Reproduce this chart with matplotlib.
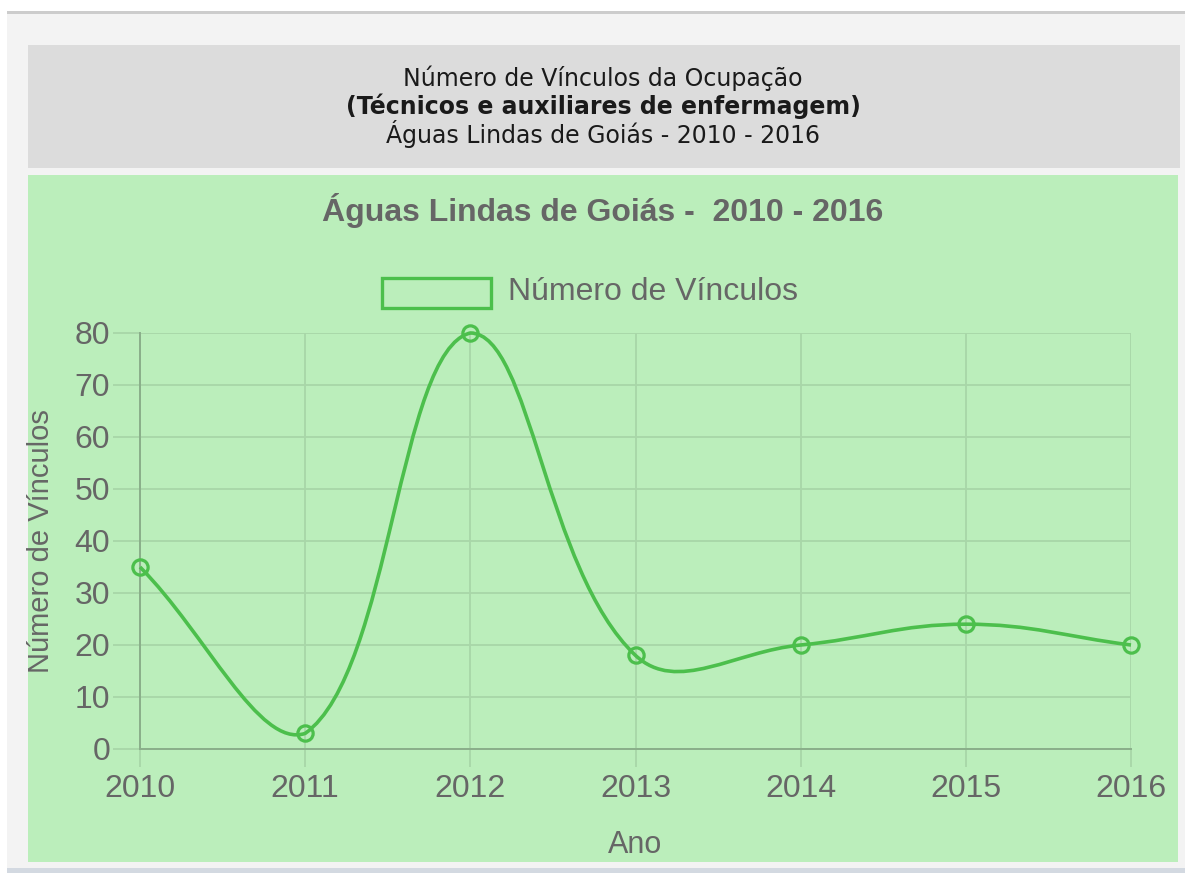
import numpy as np
import matplotlib.pyplot as plt
from matplotlib.patches import Rectangle, PathPatch
from matplotlib.path import Path

plt.rcParams['font.family'] = ['Liberation Sans', 'DejaVu Sans']

# dados
anos = [2010, 2011, 2012, 2013, 2014, 2015, 2016]
vinculos = [35, 3, 80, 18, 20, 24, 20]
yticks = [0, 10, 20, 30, 40, 50, 60, 70, 80]

titulo_cab = ['Número de Vínculos da Ocupação',
              '(Técnicos e auxiliares de enfermagem)',
              'Águas Lindas de Goiás - 2010 - 2016']
titulo_graf = 'Águas Lindas de Goiás -  2010 - 2016'
rotulo_serie = 'Número de Vínculos'

verde = '#4cbf4c'
cinza_txt = '#666666'
grade = '#a8d6a8'     # preto 10% sobre o fundo verde
eixo = '#8aae8a'      # linhas dos eixos, um pouco mais escuras

W, H = 1185, 873
fig = plt.figure(figsize=(W / 100, H / 100), dpi=100)
fig.patch.set_facecolor('white')


def caixa(x0, y0, x1, y1, cor, **kw):
    # retangulo em pixels da figura (origem no topo)
    r = Rectangle((x0 / W, 1 - y1 / H), (x1 - x0) / W, (y1 - y0) / H,
                  transform=fig.transFigure, facecolor=cor, zorder=-5, **kw)
    fig.patches.append(r)
    return r


caixa(7, 11, 1185, 14, '#cccccc', edgecolor='none')
caixa(7, 14, 1185, 868, '#f3f3f3', edgecolor='none')
caixa(7, 868, 1185, 873, '#d3d9e1', edgecolor='none')
caixa(28, 45, 1180, 168, '#dcdcdc', edgecolor='none')
caixa(28, 175, 1178, 862, '#bbeebb', edgecolor='none')

# cabecalho
for i, (txt, y) in enumerate(zip(titulo_cab, [78, 106, 134])):
    fig.text(603 / W, 1 - y / H, txt, ha='center', va='center', fontsize=17,
             color='#1a1a1a', family='DejaVu Sans',
             fontweight='bold' if i == 1 else 'normal')

# titulo do grafico
fig.text(603 / W, 1 - 211 / H, titulo_graf, ha='center', va='center',
         fontsize=23, fontweight='bold', color=cinza_txt)

# legenda
leg = Rectangle((382 / W, 1 - 308 / H), 109 / W, 30 / H, transform=fig.transFigure,
                facecolor='none', edgecolor=verde, lw=2.4)
fig.patches.append(leg)
fig.text(508 / W, 1 - 292 / H, rotulo_serie, ha='left', va='center',
         fontsize=23, color=cinza_txt)

ax = fig.add_axes([140 / W, 1 - 749 / H, 991 / W, 416 / H])
ax.patch.set_visible(False)
ax.set_xlim(anos[0], anos[-1])
ax.set_ylim(0, 80)
ax.set_xticks(anos)
ax.set_yticks(yticks)

ax.grid(True, color=grade, lw=1.3)
ax.set_axisbelow(True)
for s in ['top', 'right']:
    ax.spines[s].set_visible(False)
for s in ['left', 'bottom']:
    ax.spines[s].set_color(eixo)
    ax.spines[s].set_linewidth(1.4)
ax.tick_params(axis='y', length=19.5, width=1.3, color=grade, pad=2,
               labelsize=23, labelcolor=cinza_txt)
ax.tick_params(axis='x', length=13, width=1.3, color=grade, pad=5,
               labelsize=23, labelcolor=cinza_txt)

ax.set_ylabel('Número de Vínculos', fontsize=21, color=cinza_txt, va='center')
ax.yaxis.set_label_coords((41 - 140) / 991, 0.5)
ax.set_xlabel('Ano', fontsize=22, color=cinza_txt, va='center')
ax.xaxis.set_label_coords(0.5, (749 - 845) / 416)

# curva com tensao 0.4 (estilo Chart.js), calculada em pixels
pts = ax.transData.transform(np.column_stack([anos, vinculos]))
x0p, y0p = ax.transData.transform((anos[0], 0))
x1p, y1p = ax.transData.transform((anos[-1], 80))
t = 0.4
cp_ant, cp_prox = [], []
n = len(pts)
for i in range(n):
    cur = pts[i]
    ant = pts[i - 1] if i > 0 else cur
    prox = pts[i + 1] if i < n - 1 else cur
    d01 = np.hypot(*(cur - ant))
    d12 = np.hypot(*(prox - cur))
    tot = d01 + d12
    s01 = d01 / tot if tot else 0
    s12 = d12 / tot if tot else 0
    a = cur - t * s01 * (prox - ant)
    b = cur + t * s12 * (prox - ant)
    a = np.array([np.clip(a[0], x0p, x1p), np.clip(a[1], y0p, y1p)])
    b = np.array([np.clip(b[0], x0p, x1p), np.clip(b[1], y0p, y1p)])
    cp_ant.append(a)
    cp_prox.append(b)

verts = [pts[0]]
codes = [Path.MOVETO]
for i in range(n - 1):
    verts += [cp_prox[i], cp_ant[i + 1], pts[i + 1]]
    codes += [Path.CURVE4] * 3
verts = ax.transData.inverted().transform(np.array(verts))
curva = PathPatch(Path(verts, codes), facecolor='none', edgecolor=verde,
                  lw=2.6, clip_on=False, zorder=3)
ax.add_patch(curva)

ax.plot(anos, vinculos, 'o', ms=11, mfc='none', mec=verde, mew=2.3,
        clip_on=False, zorder=4)

fig.savefig('out.png', dpi=100)
